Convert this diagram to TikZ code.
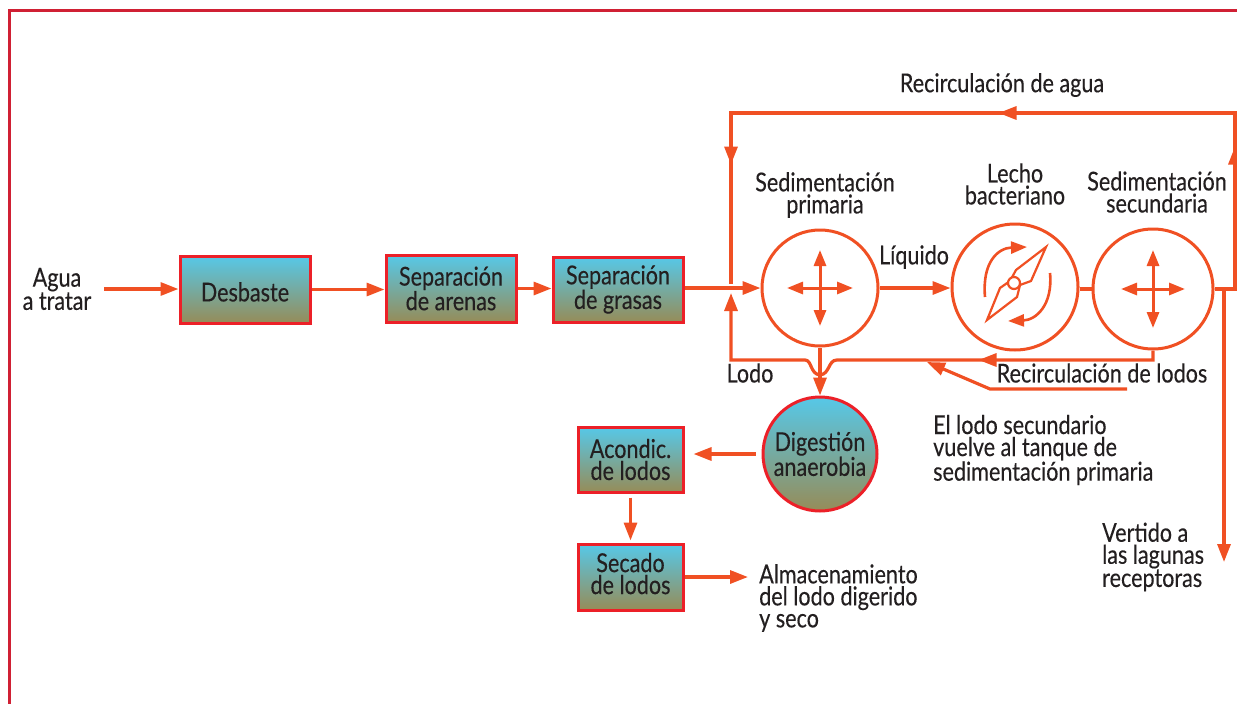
\documentclass[tikz,border=0pt]{standalone}
\usepackage{fontspec}
\setmainfont{Lato}[FakeStretch=0.83,FakeBold=0.3]
\usetikzlibrary{arrows.meta,decorations.markings}
\definecolor{arr}{RGB}{240,80,35}
\definecolor{boxred}{RGB}{236,32,40}
\definecolor{framered}{RGB}{208,32,52}
\definecolor{cyanT}{RGB}{86,200,232}
\definecolor{oliveB}{RGB}{150,140,88}
\definecolor{txt}{RGB}{35,31,32}
\begin{document}
\begin{tikzpicture}[x=1pt,y=-1pt,
  lbl/.style={font=\fontsize{26}{22}\selectfont, text=txt, inner sep=0pt, align=center},
  proc/.style={lbl, draw=boxred, line width=3pt, top color=cyanT, bottom color=oliveB},
  tank/.style={circle, draw=arr, line width=3pt, fill=white, inner sep=0pt},
  flow/.style={draw=arr, line width=3.2pt, -{Triangle[length=18pt,width=13pt]}},
  wire/.style={draw=arr, line width=3.2pt},
  cross/.style={draw=arr, line width=3pt, {Triangle[length=16pt,width=12pt]}-{Triangle[length=16pt,width=12pt]}},
  midtip/.style={postaction={decorate,decoration={markings,mark=at position #1 with {\arrow{Triangle[length=18pt,width=13pt]}}}}},
]
\useasboundingbox (0,0) rectangle (1237,704);
% frame
\draw[framered, line width=3pt] (9,704) -- (9,10) -- (1237,10);

% process boxes
\node[proc, minimum width=130pt, minimum height=67pt] (desb) at (245,289.5) {\rule{0pt}{24pt}Desbaste};
\node[proc, minimum width=130pt, minimum height=67pt] (aren) at (451,288.5) {Separación\\de arenas};
\node[proc, minimum width=130pt, minimum height=65pt] (gras) at (618,289.5) {Separación\\de grasas};
\node[proc, minimum width=105pt, minimum height=65pt] (acond) at (630.5,459.5) {Acondic.\\de lodos};
\node[proc, minimum width=105pt, minimum height=66pt] (secad) at (630.5,577) {Secado\\de lodos\rule[-7pt]{0pt}{7pt}};

% tanks
\node[tank, minimum size=116pt] (prim) at (820,288) {};
\node[tank, minimum size=126pt] (lecho) at (1015,287) {};
\node[tank, minimum size=120pt] (sec) at (1153,289) {};
\node[proc, circle, minimum size=114pt, inner sep=0pt] (dig) at (820,454) {Digestión\\anaerobia};

% labels
\node[lbl] (agua) at (57,289) {Agua\\a tratar};
\node[lbl] (recag) at (1002,85) {Recirculación de agua};
\node[lbl] (tprim) at (825,195) {Sedimentación\\primaria};
\node[lbl] (tlecho) at (1015,184) {Lecho\\bacteriano};
\node[lbl] (tsec) at (1157,192) {Sedimentación\\secundaria};
\node[lbl] (liq) at (914,257) {Líquido};
\node[lbl] (lodo) at (750,373) {Lodo};
\node[lbl] (reclod) at (1102,373) {Recirculación de lodos};
\node[lbl, align=left, anchor=west] (almac) at (759,598) {Almacenamiento\\del lodo digerido\\y seco};
\node[lbl, align=left, anchor=west] (nota) at (933,450) {El lodo secundario\\vuelve al tanque de\\sedimentación primaria};
\node[lbl, align=left, anchor=west] (vert) at (1102,557) {Vertido a\\las lagunas\\receptoras};

% cross arrows inside settling tanks
\draw[cross] ([xshift=-33pt]prim.center) -- ([xshift=33pt]prim.center);
\draw[cross] ([yshift=-38pt]prim.center) -- ([yshift=38pt]prim.center);
\draw[cross] ([xshift=-32pt]sec.center) -- ([xshift=32pt]sec.center);
\draw[cross] ([yshift=-39pt]sec.center) -- ([yshift=39pt]sec.center);

% trickling filter icon
\draw[wire, line width=2.6pt, -{Triangle[length=16pt,width=12pt]}] (985,297) .. controls (982,262) and (998,248) .. (1027,247);
\draw[wire, line width=2.6pt, -{Triangle[length=16pt,width=12pt]}] (1050,273) .. controls (1053,305) and (1036,320) .. (1008,321);
\draw[draw=arr, line width=2.2pt, line join=miter, fill=white] (1046,247) -- (1031,281) -- (1020,285) -- (1017,297) -- (987,320) -- (1000,288) -- (1010,281) -- (1016,270) -- cycle;
\draw[draw=arr, line width=2.2pt, fill=white] (1014,283) circle[radius=6pt];

% main line
\draw[flow] ([xshift=13pt]agua.east) -- (agua.east -| desb.west);
\draw[flow] (desb.east) -- (desb.east -| aren.west);
\draw[flow] (aren.east) -- (aren.east -| gras.west);
\draw[flow] (gras.east |- prim.west) -- (prim.west);
\draw[flow] (prim.east) -- (prim.east -| lecho.west);
\draw[wire] (lecho.east |- sec.west) -- (sec.west);

% water recirculation
\coordinate (rb) at (1235,289);
\coordinate (tr) at (1235,113);
\coordinate (tl) at (731,113);
\coordinate (jtop) at (731,284);
\draw[wire, midtip=163pt, midtip=433pt, midtip=752pt] (sec.east) -- (rb) -- (tr) -- (tl) -- (jtop);

% discharge
\coordinate (vs) at (1224,289);
\coordinate (ve) at (1224,562);
\draw[flow] (vs) -- (ve);

% sludge recirculation
\coordinate (b1) at (1153,360);
\coordinate (d1) at (837,360);
\coordinate (d2) at (805,360);
\coordinate (bl) at (731,360);
\coordinate (jbot) at (731,293);
\draw[wire, midtip=184pt, -{Triangle[length=18pt,width=13pt]}] (sec.south) -- (b1) -- (d1) .. controls (828,360) and (830,374) .. (820,375) .. controls (810,374) and (812,360) .. (d2) -- (bl) -- (jbot);
\coordinate (r1) at (1127,389);
\coordinate (r2) at (990,389);
\coordinate (r3) at (927,362);
\draw[flow] (r1) -- (r2) -- (r3);

% sludge treatment
\draw[flow] (prim.south) -- (dig.north);
\draw[flow] ([xshift=-6pt]dig.west) -- ([xshift=9pt]acond.east |- dig.west);
\draw[flow] ([yshift=-4pt]acond.south) -- ([yshift=2pt]secad.north);
\draw[flow] (secad.east) -- ([xshift=-11pt]almac.west |- secad.east);
\end{tikzpicture}
\end{document}
